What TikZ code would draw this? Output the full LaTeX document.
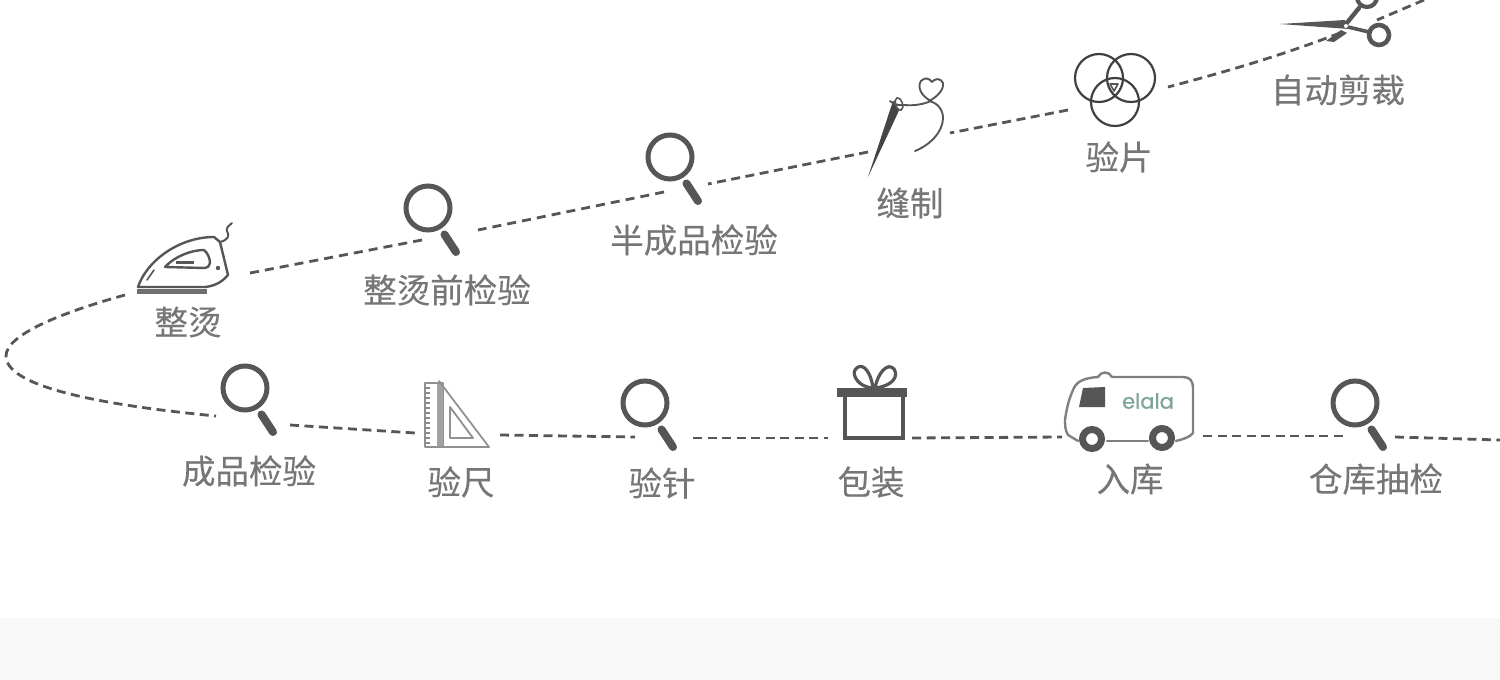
\documentclass[tikz,border=0pt]{standalone}
\usepackage{fontspec}
\newfontfamily\cjk[FakeBold=0.25]{Noto Sans CJK SC}
\newfontfamily\logofont[FakeBold=0.8]{Poppins}
\definecolor{ink}{HTML}{565656}
\definecolor{labelgray}{HTML}{767676}
\definecolor{logogreen}{HTML}{7FA598}
\definecolor{panel}{HTML}{F8F8F8}
\tikzset{
  x=1pt,y=-1pt,
  lab/.style={font=\cjk\fontsize{33.5}{35}\selectfont,text=labelgray,inner sep=0pt},
  route/.style={draw=ink,line width=2.8pt,dash pattern=on 9pt off 5.5pt},
  route wide/.style={route,dash pattern=on 9pt off 6.1pt},
  icon/.style={draw=ink,line width=2.4pt,line join=round,line cap=round},
  thin icon/.style={draw=ink,line width=1.6pt,line join=round,line cap=round},
}
\newcommand{\lens}[3]{%
  \draw[draw=ink,line width=5pt] (#1,#2) circle[radius=22];
  \draw[draw=ink,line width=8pt,line cap=round] (#1+16.5,#2+26.5) -- (#1+28,#2+44);
  \coordinate (#3) at (#1,#2);
}
\begin{document}
\begin{tikzpicture}
\useasboundingbox (0,0) rectangle (1500,680);
\fill[white] (0,0) rectangle (1500,680);
\fill[panel] (0,618) rectangle (1500,680);

% route ends
\coordinate (r1a) at (1424,0);   \coordinate (r1b) at (1377,20);
\coordinate (r2a) at (1340,33);  \coordinate (r2b) at (1168,87);
\coordinate (r3a) at (1068,110); \coordinate (r3b) at (950,133);
\coordinate (r4a) at (868,152);  \coordinate (r4b) at (708,184);
\coordinate (r5a) at (664,192);  \coordinate (r5b) at (478,230);
\coordinate (r6a) at (422,240);  \coordinate (r6b) at (250,273);
\coordinate (r7a) at (125,295);  \coordinate (r7m) at (6,356); \coordinate (r7b) at (216,416);
\coordinate (r8a) at (290,425);  \coordinate (r8b) at (415,433);
\coordinate (r9a) at (500,435);  \coordinate (r9b) at (635,437);
\coordinate (r10a) at (693,438); \coordinate (r10b) at (828,438);
\coordinate (r11a) at (912,438); \coordinate (r11b) at (1062,437);
\coordinate (r12a) at (1203,436);\coordinate (r12b) at (1345,436);
\coordinate (r13a) at (1395,437);\coordinate (r13b) at (1500,440);

\draw[route] (r1a) -- (r1b);
\draw[route] (r2a) .. controls (1280,56) and (1225,72) .. (r2b);
\draw[route] (r3a) -- (r3b);
\draw[route] (r4a) -- (r4b);
\draw[route wide] (r5a) -- (r5b);
\draw[route wide] (r6a) -- (r6b);
\draw[route] (r7a) .. controls (60,313) and (6,335) .. (r7m) .. controls (6,385) and (90,404) .. (r7b);
\draw[route] (r8a) -- (r8b);
\draw[route] (r9a) -- (r9b);
\draw[route] (r10a) -- (r10b);
\draw[route] (r11a) -- (r11b);
\draw[route] (r12a) -- (r12b);
\draw[route] (r13a) -- (r13b);

% magnifiers
\lens{428}{208}{m1}
\lens{670}{157}{m2}
\lens{245}{388}{m3}
\lens{645}{403}{m4}
\lens{1355}{403}{m5}

% scissors
\fill[ink] (1280,24) -- (1345,20) -- (1349,29) -- cycle;
\fill[ink] (1326,41) -- (1341,30) -- (1347,33) -- (1334,42) -- cycle;
\draw[icon,line width=3.6pt] (1348,27) -- (1369,32);
\draw[icon,line width=4.4pt] (1346,24) -- (1359,8);
\draw[icon,line width=4.6pt] (1379,35) circle[radius=10];
\draw[icon,line width=4.2pt] (1367,-3) circle[radius=10];
\fill[white] (1346,26) circle[radius=2];

% three circles
\draw[icon,line width=2.2pt,draw=ink!75!black] (1099,78) circle[radius=24];
\draw[icon,line width=2.2pt,draw=ink!75!black] (1131,78) circle[radius=24];
\draw[icon,line width=2.2pt,draw=ink!75!black] (1115,102) circle[radius=24];
\draw[thin icon] (1110,84) -- (1118,84) -- (1114,91) -- cycle;

% needle and thread
\fill[ink!80!black] (868,177) -- (893,101) -- (903,102) -- cycle;
\draw[thin icon,fill=white] (899,104) ellipse[x radius=3.4,y radius=6.5,rotate=18];
\draw[thin icon,line width=1.9pt] (890,101) .. controls (896,106) and (900,105) .. (904,105)
  .. controls (915,106) and (924,104) .. (931,101)
  .. controls (921,96) and (917,87) .. (921,81)
  .. controls (925,77) and (929,78) .. (932,82)
  .. controls (935,78) and (941,78) .. (943,83)
  .. controls (944,90) and (937,97) .. (929,101)
  .. controls (938,103) and (943,110) .. (943,118)
  .. controls (943,132) and (930,145) .. (915,151);

% iron
\draw[draw=ink!85,line width=5pt] (137,291) -- (207,291);
\draw[icon,line width=2.4pt] (138,287) .. controls (147,260) and (180,237) .. (214,237)
  -- (220,242) -- (228,275) .. controls (222,282) and (215,286) .. (205,287) -- cycle;
\draw[icon,line width=2.4pt] (165,267) .. controls (175,256) and (192,250) .. (204,250)
  .. controls (208,253) and (210,259) .. (210,263) .. controls (209,266) and (208,268) .. (205,268) -- cycle;
\fill[ink] (176,261) rectangle (194,264);
\draw[thin icon] (147,280) -- (154,270);
\fill[ink] (218,268) circle[radius=2.2];
\draw[thin icon,line width=2pt] (220,242) .. controls (228,240) and (230,236) .. (227,231) .. controls (226,227) and (229,226) .. (232,223);

% set square and ruler
\draw[icon,line width=1.8pt,draw=ink!65] (425,383) rectangle (443,447);
\fill[ink!55] (437,384) rectangle (443,446);
\foreach \yy in {388,393,...,443} \draw[draw=ink!70,line width=1.4pt] (425,\yy) -- (430,\yy);
\draw[icon,line width=1.8pt,draw=ink!65] (439,381) -- (489,447) -- (443,447);
\draw[icon,line width=1.8pt,draw=ink!65] (450,407) -- (473,438) -- (450,438) -- cycle;

% gift
\draw[icon,line width=3.2pt] (873,388) .. controls (858,387) and (852,375) .. (855,370) .. controls (860,362) and (870,367) .. (873,388);
\draw[icon,line width=3.2pt] (875,388) .. controls (878,372) and (888,362) .. (894,369) .. controls (899,377) and (892,386) .. (875,388);
\fill[ink] (837,388) rectangle (907,397);
\draw[draw=ink,line width=4pt] (845,397) -- (845,438) -- (903,438) -- (903,397);

% van
\draw[icon,line width=2.4pt,draw=ink!75] (1068,435) .. controls (1065,430) and (1065,425) .. (1065,420)
  .. controls (1067,405) and (1070,397) .. (1073,390)
  .. controls (1076,382) and (1083,378) .. (1098,377)
  .. controls (1101,371) and (1109,371) .. (1112,377)
  -- (1183,377) .. controls (1190,377) and (1193,381) .. (1193,388)
  -- (1193,433) .. controls (1190,437) and (1184,439) .. (1176,441);
\draw[icon,line width=2.4pt,draw=ink!75] (1068,435) -- (1078,441);
\draw[icon,line width=2.4pt,draw=ink!75] (1107,441) -- (1148,441);
\fill[ink] (1083,388) -- (1105,387) -- (1105,407) -- (1079,407) -- cycle;
\draw[draw=ink,line width=7pt,fill=white] (1092,439) circle[radius=9.5];
\draw[draw=ink,line width=7pt,fill=white] (1162,438) circle[radius=9.5];
\node[inner sep=0pt,font=\logofont\fontsize{21}{21}\selectfont,text=logogreen] (logo) at (1148,401) {elala};

% labels
\node[lab] (t1) at (1338,90) {自动剪裁};
\node[lab] (t2) at (1119,157) {验片};
\node[lab] (t3) at (910,203) {缝制};
\node[lab] (t4) at (694,240) {半成品检验};
\node[lab] (t5) at (447,290) {整烫前检验};
\node[lab] (t6) at (188,322) {整烫};
\node[lab] (t7) at (249,471) {成品检验};
\node[lab] (t8) at (461,482) {验尺};
\node[lab] (t9) at (662,483) {验针};
\node[lab] (t10) at (871,482) {包装};
\node[lab] (t11) at (1130,479) {入库};
\node[lab] (t12) at (1376,479) {仓库抽检};
\end{tikzpicture}
\end{document}
